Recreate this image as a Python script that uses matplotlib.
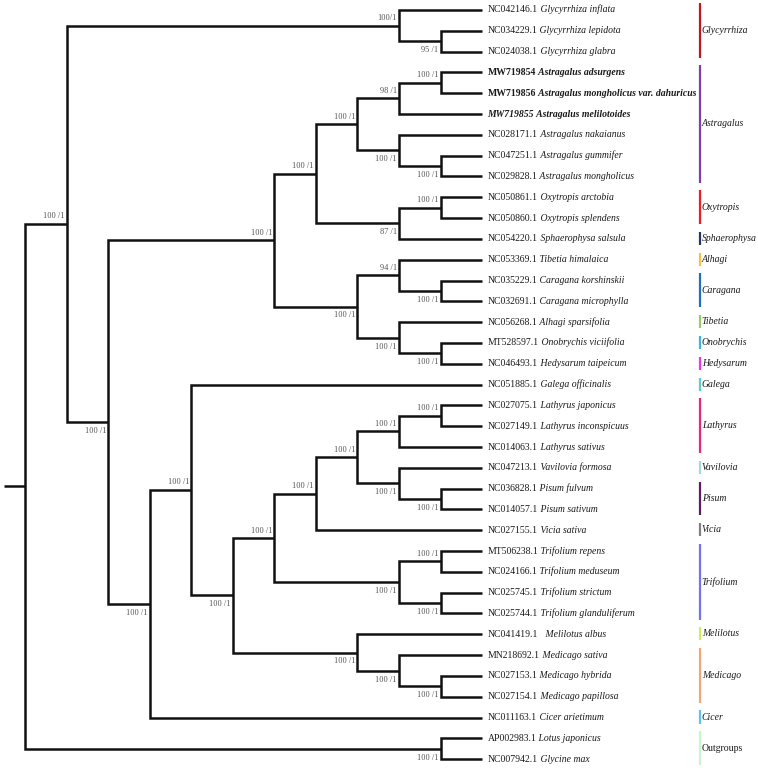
import matplotlib
matplotlib.use("Agg")
import matplotlib.pyplot as plt

# ---------------- data ----------------
accessions = [
    "NC042146.1", "NC034229.1", "NC024038.1",
    "MW719854", "MW719856", "MW719855",
    "NC028171.1", "NC047251.1", "NC029828.1",
    "NC050861.1", "NC050860.1", "NC054220.1",
    "NC053369.1", "NC035229.1", "NC032691.1",
    "NC056268.1", "MT528597.1", "NC046493.1",
    "NC051885.1", "NC027075.1", "NC027149.1", "NC014063.1",
    "NC047213.1", "NC036828.1", "NC014057.1", "NC027155.1",
    "MT506238.1", "NC024166.1", "NC025745.1", "NC025744.1",
    "NC041419.1", "MN218692.1", "NC027153.1", "NC027154.1",
    "NC011163.1", "AP002983.1", "NC007942.1",
]
species = [
    "Glycyrrhiza inflata", "Glycyrrhiza lepidota", "Glycyrrhiza glabra",
    "Astragalus adsurgens", "Astragalus mongholicus var. dahuricus", "Astragalus melilotoides",
    "Astragalus nakaianus", "Astragalus gummifer", "Astragalus mongholicus",
    "Oxytropis arctobia", "Oxytropis splendens", "Sphaerophysa salsula",
    "Tibetia himalaica", "Caragana korshinskii", "Caragana microphylla",
    "Alhagi sparsifolia", "Onobrychis viciifolia", "Hedysarum taipeicum",
    "Galega officinalis", "Lathyrus japonicus", "Lathyrus inconspicuus", "Lathyrus sativus",
    "Vavilovia formosa", "Pisum fulvum", "Pisum sativum", "Vicia sativa",
    "Trifolium repens", "Trifolium meduseum", "Trifolium strictum", "Trifolium glanduliferum",
    "  Melilotus albus", "Medicago sativa", "Medicago hybrida", "Medicago papillosa",
    "Cicer arietimum", "Lotus japonicus", "Glycine max",
]
# 0 = normal, 1 = bold accession + bold italic species, 2 = all bold italic
label_style = [0] * 37
label_style[3] = 1
label_style[4] = 1
label_style[5] = 2

# tree topology: (support, [children]) ; ints are leaf indices
tree = ("", [
    ("100 /1", [
        ("100/1", [0, ("95 /1", [1, 2])]),
        ("100 /1", [
            ("100 /1", [
                ("100 /1", [
                    ("100 /1", [
                        ("98 /1", [("100 /1", [3, 4]), 5]),
                        ("100 /1", [6, ("100 /1", [7, 8])]),
                    ]),
                    ("87 /1", [("100 /1", [9, 10]), 11]),
                ]),
                ("100 /1", [
                    ("94 /1", [12, ("100 /1", [13, 14])]),
                    ("100 /1", [15, ("100 /1", [16, 17])]),
                ]),
            ]),
            ("100 /1", [
                ("100 /1", [
                    18,
                    ("100 /1", [
                        ("100 /1", [
                            ("100 /1", [
                                ("100 /1", [
                                    ("100 /1", [("100 /1", [19, 20]), 21]),
                                    ("100 /1", [22, ("100 /1", [23, 24])]),
                                ]),
                                25,
                            ]),
                            ("100 /1", [("100 /1", [26, 27]), ("100 /1", [28, 29])]),
                        ]),
                        ("100 /1", [30, ("100 /1", [31, ("100 /1", [32, 33])])]),
                    ]),
                ]),
                34,
            ]),
        ]),
    ]),
    ("100 /1", [35, 36]),
])

genus_names = ["Glycyrrhiza", "Astragalus", "Oxytropis", "Sphaerophysa", "Alhagi",
               "Caragana", "Tibetia", "Onobrychis", "Hedysarum", "Galega",
               "Lathyrus", "Vavilovia", "Pisum", "Vicia", "Trifolium",
               "Melilotus", "Medicago", "Cicer", "Outgroups"]
genus_first = [0, 3, 9, 11, 12, 13, 15, 16, 17, 18, 19, 22, 23, 25, 26, 30, 31, 34, 35]
genus_last = [2, 8, 10, 11, 12, 14, 15, 16, 17, 18, 21, 22, 24, 25, 29, 30, 33, 34, 36]
genus_colors = ["#c0161f", "#7b3fb5", "#ee1c25", "#203864", "#f5c242",
                "#1f6fbf", "#99cc66", "#39b5e8", "#ee33ee", "#5ccccc",
                "#e8287c", "#a8d5e5", "#5b1e5e", "#808080", "#7373ee",
                "#ccf060", "#f5a57a", "#5ec3ee", "#cdf5cd"]

# ---------------- layout ----------------
W, H = 758, 771
X0, DX = 25.0, 41.55   # px of level 0 and px per level
Y0, DY = 10.0, 20.81   # px of leaf 0 and px per leaf
LEAF_LEVEL = 11
SERIF = "Liberation Serif"

fig = plt.figure(figsize=(W / 100, H / 100), dpi=100)
ax = fig.add_axes([0, 0, 1, 1])
ax.set_xlim(-X0 / DX, (W - X0) / DX)
ax.set_ylim((H - Y0) / DY, -Y0 / DY)
ax.axis("off")

LW = 1.8
LINE_C = "#111111"
SUP_C = "#555555"
SUP_FS = 6.0
TIP_FS = 7.0


def layout(node):
    """return (x_level, y) of node and draw it"""
    if isinstance(node, int):
        return LEAF_LEVEL, float(node)
    support, children = node
    pos = [layout(c) for c in children]
    x = min(p[0] for p in pos) - 1
    y = (pos[0][1] + pos[-1][1]) / 2.0
    # bracket
    ax.plot([pos[0][0], x, x, pos[-1][0]], [pos[0][1], pos[0][1], pos[-1][1], pos[-1][1]],
            color=LINE_C, lw=LW, solid_joinstyle="miter", solid_capstyle="butt", zorder=2)
    for p in pos[1:-1]:
        ax.plot([x, p[0]], [p[1], p[1]], color=LINE_C, lw=LW, zorder=2)
    # support labels for children
    for k, (c, p) in enumerate(zip(children, pos)):
        if isinstance(c, int) or not c[0]:
            continue
        above = (k == 0)
        ax.annotate(c[0], xy=(p[0], p[1]), xytext=(-1.5, 2.5 if above else -3.5),
                    textcoords="offset points", ha="right",
                    va="bottom" if above else "top",
                    fontsize=SUP_FS, family=SERIF, color=SUP_C)
    return x, y


rx, ry = layout(tree)
# root stub
ax.plot([rx - 0.5, rx], [ry, ry], color=LINE_C, lw=LW, solid_capstyle="butt", zorder=2)

# tip labels
for i, (acc, sp) in enumerate(zip(accessions, species)):
    st = label_style[i]
    w = "bold" if st else "normal"
    t1 = ax.annotate(acc, xy=(LEAF_LEVEL, i), xytext=(4.0, 0), textcoords="offset points",
                     ha="left", va="center", fontsize=TIP_FS, family=SERIF,
                     fontweight=w, fontstyle="italic" if st == 2 else "normal",
                     color="#1a1a1a")
    ax.annotate(" " + sp, xy=(1, 0), xycoords=t1, ha="left", va="bottom",
                fontsize=TIP_FS, family=SERIF, fontweight=w, fontstyle="italic",
                color="#1a1a1a")

# genus bars
BAR_X = (700 - X0) / DX
for name, f, l, c in zip(genus_names, genus_first, genus_last, genus_colors):
    y0 = f - 0.34
    y1 = l + 0.29
    ax.plot([BAR_X, BAR_X], [y0, y1], color=c, lw=1.6, solid_capstyle="butt")
    ax.annotate(name, xy=(BAR_X, (y0 + y1) / 2), xytext=(1.2, 0), textcoords="offset points",
                ha="left", va="center", fontsize=TIP_FS, family=SERIF,
                fontstyle="normal" if name == "Outgroups" else "italic", color="#1a1a1a")

fig.savefig("out.png", dpi=100, facecolor="white")
